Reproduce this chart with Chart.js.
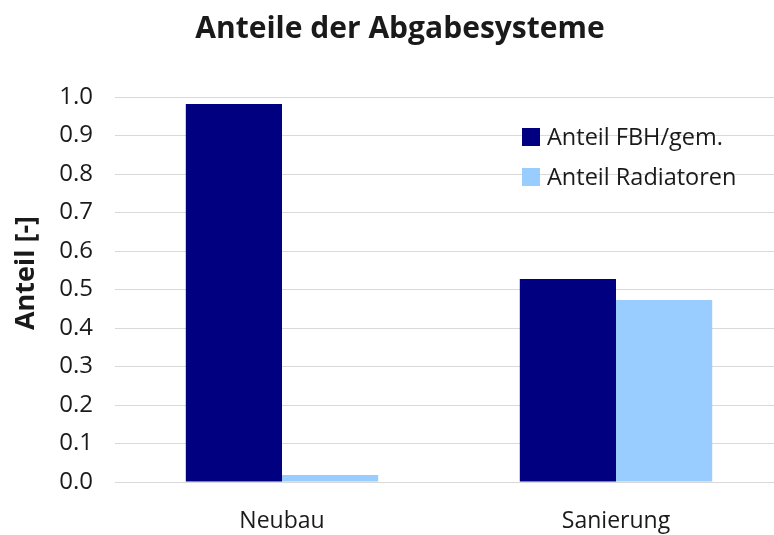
<!DOCTYPE html>
<html>
<head>
<meta charset="utf-8">
<script src="https://cdn.jsdelivr.net/npm/chart.js@4"></script>
<style>
html,body{margin:0;padding:0;overflow:hidden;background:#fff;}
#wrap{width:800px;height:535px;}
</style>
</head>
<body>
<div id="wrap"><canvas id="c" width="800" height="535"></canvas></div>
<script>
const categories = ["Neubau", "Sanierung"];
const seriesNames = ["Anteil FBH/gem.", "Anteil Radiatoren"];
const anteilFBH = [0.982, 0.527];
const anteilRadiatoren = [0.018, 0.473];
const yTicks = [0.0, 0.1, 0.2, 0.3, 0.4, 0.5, 0.6, 0.7, 0.8, 0.9, 1.0];
const chartTitle = "Anteile der Abgabesysteme";
const yAxisTitle = "Anteil [-]";

const FONT = "'Open Sans', 'Noto Sans', sans-serif";
const TXT = '#1a1a1a';

const decorations = {
  id: 'decorations',
  afterDraw(chart) {
    const ctx = chart.ctx;
    ctx.save();
    // chart title
    ctx.fillStyle = TXT;
    ctx.font = "bold 30px " + FONT;
    ctx.textAlign = 'center';
    ctx.textBaseline = 'alphabetic';
    ctx.fillText(chartTitle, 400, 38);
    // y axis title
    ctx.save();
    ctx.translate(34, 273);
    ctx.rotate(-Math.PI / 2);
    ctx.font = "bold 27px " + FONT;
    ctx.textAlign = 'center';
    ctx.textBaseline = 'alphabetic';
    ctx.fillText(yAxisTitle, 0, 0);
    ctx.restore();
    // legend inside plot
    ctx.font = "23.5px " + FONT;
    ctx.textBaseline = 'middle';
    ctx.textAlign = 'left';
    chart.data.datasets.forEach((ds, i) => {
      const y = 137 + i * 40;
      ctx.fillStyle = ds.backgroundColor;
      ctx.fillRect(522, y - 9, 18, 18);
      ctx.fillStyle = TXT;
      ctx.fillText(ds.label, 547, y + 1);
    });
    ctx.restore();
  }
};

new Chart(document.getElementById('c'), {
  type: 'bar',
  data: {
    labels: categories,
    datasets: [
      { label: seriesNames[0], data: anteilFBH, backgroundColor: '#000080' },
      { label: seriesNames[1], data: anteilRadiatoren, backgroundColor: '#99CCFF' }
    ]
  },
  options: {
    responsive: false,
    animation: false,
    layout: { padding: { left: 0, right: 17, top: 97, bottom: 0 } },
    datasets: { bar: { categoryPercentage: 0.576, barPercentage: 1.0 } },
    plugins: {
      legend: { display: false },
      tooltip: { enabled: false },
      title: { display: false }
    },
    scales: {
      x: {
        grid: { display: false, drawTicks: false },
        border: { display: false },
        ticks: { color: TXT, font: { family: FONT, size: 23 }, padding: 26 },
        afterFit(scale) { scale.height = 53; }
      },
      y: {
        min: 0, max: 1,
        afterBuildTicks(scale) { scale.ticks = yTicks.map(v => ({ value: v })); },
        grid: { color: '#d9d9d9', lineWidth: 1, drawTicks: false },
        border: { display: false },
        ticks: {
          color: TXT,
          font: { family: FONT, size: 24 },
          padding: 22,
          callback: v => Number(v).toFixed(1)
        },
        afterFit(scale) { scale.width = 115; }
      }
    }
  },
  plugins: [decorations]
});
</script>
</body>
</html>
